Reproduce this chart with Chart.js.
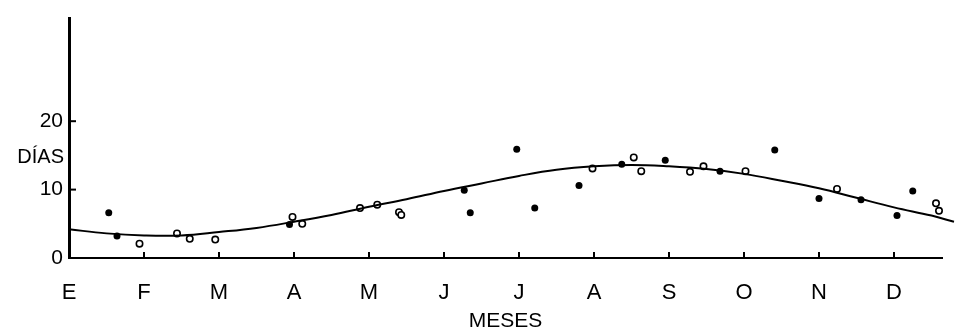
<!DOCTYPE html>
<html>
<head>
<meta charset="utf-8">
<script src="https://cdn.jsdelivr.net/npm/chart.js@4"></script>
<style>
  html, body { margin: 0; padding: 0; background: #fff; }
  #wrap { width: 969px; height: 334px; }
</style>
</head>
<body>
<div id="wrap"><canvas id="diasChart" width="969" height="334"></canvas></div>
<script>
// Months (tick labels on x) and y ticks
const months = ['E', 'F', 'M', 'A', 'M', 'J', 'J', 'A', 'S', 'O', 'N', 'D'];
const yTicks = [0, 10, 20];

// Fitted curve (month position, days)
const curveX = [0, 0.5, 1, 1.5, 2, 2.5, 3, 3.5, 4, 4.5, 5, 5.5, 6, 6.5, 7, 7.5, 8, 8.5, 9, 9.5, 10, 10.5, 11, 11.5, 11.8];
const curveY = [4.2, 3.6, 3.3, 3.3, 3.8, 4.4, 5.3, 6.3, 7.5, 8.6, 9.8, 10.9, 12.0, 12.9, 13.4, 13.6, 13.4, 13.0, 12.3, 11.3, 10.2, 8.8, 7.4, 6.2, 5.3];

// Observations shown as filled dots
const filledX = [0.53, 0.64, 2.94, 5.27, 5.35, 5.97, 6.21, 6.80, 7.37, 7.95, 8.68, 9.41, 10.0, 10.56, 11.04, 11.25, 11.95];
const filledY = [6.6, 3.2, 4.9, 9.9, 6.6, 15.9, 7.3, 10.6, 13.7, 14.3, 12.7, 15.8, 8.7, 8.5, 6.2, 9.8, 4.9];

// Observations shown as open circles
const openX = [0.94, 1.44, 1.61, 1.95, 2.98, 3.11, 3.88, 4.11, 4.40, 4.43, 6.98, 7.53, 7.63, 8.28, 8.46, 9.02, 10.24, 11.56, 11.60];
const openY = [2.1, 3.6, 2.8, 2.7, 6.0, 5.0, 7.3, 7.8, 6.7, 6.3, 13.1, 14.7, 12.7, 12.6, 13.4, 12.7, 10.1, 8.0, 6.9];

const toPts = (xs, ys) => xs.map((x, i) => ({ x: x, y: ys[i] }));

const FONT = '"Liberation Sans", Arial, Helvetica, sans-serif';

// small inward tick marks + the horizontal "DÍAS" label
const extras = {
  id: 'extras',
  afterDraw(chart) {
    const c = chart.ctx, xs = chart.scales.x, ys = chart.scales.y;
    c.save();
    c.strokeStyle = '#000';
    c.lineWidth = 2;
    yTicks.slice(1).forEach(v => {
      const py = ys.getPixelForValue(v);
      c.beginPath(); c.moveTo(xs.left, py); c.lineTo(xs.left + 7, py); c.stroke();
    });
    for (let i = 1; i < months.length; i++) {
      const px = xs.getPixelForValue(i);
      c.beginPath(); c.moveTo(px, ys.bottom); c.lineTo(px, ys.bottom - 6); c.stroke();
    }
    c.fillStyle = '#000';
    c.font = '20px ' + FONT;
    c.textAlign = 'right';
    c.textBaseline = 'middle';
    c.fillText('DÍAS', 64, 157);
    c.restore();
  }
};

const ctx = document.getElementById('diasChart').getContext('2d');
const diasChart = new Chart(ctx, {
  type: 'scatter',
  data: {
    datasets: [
      {
        type: 'line',
        data: toPts(curveX, curveY),
        borderColor: '#000',
        borderWidth: 2,
        pointRadius: 0,
        tension: 0.4,
        fill: false,
        clip: false
      },
      {
        data: toPts(filledX, filledY),
        backgroundColor: '#000',
        borderColor: '#000',
        pointRadius: 3.5,
        borderWidth: 0,
        clip: false
      },
      {
        data: toPts(openX, openY),
        backgroundColor: '#fff',
        borderColor: '#000',
        pointRadius: 3.2,
        borderWidth: 1.6,
        clip: false
      }
    ]
  },
  plugins: [extras],
  options: {
    responsive: false,
    animation: false,
    layout: { padding: { left: 0, right: 27, top: 7, bottom: 0 } },
    plugins: { legend: { display: false }, tooltip: { enabled: false } },
    scales: {
      x: {
        type: 'linear',
        min: 0,
        max: 11.64,
        afterBuildTicks: s => { s.ticks = months.map((m, i) => ({ value: i })); },
        afterFit: s => { s.height = 76; },
        grid: { display: false, drawTicks: false },
        border: { display: true, color: '#000', width: 2 },
        ticks: {
          color: '#000',
          padding: 22,
          font: { family: FONT, size: 22 },
          maxRotation: 0,
          autoSkip: false,
          callback: v => months[v]
        },
        title: {
          display: true,
          text: 'MESES',
          color: '#000',
          font: { family: FONT, size: 21 },
          padding: { top: 2, bottom: 0 }
        }
      },
      y: {
        min: 0,
        max: 35,
        afterBuildTicks: s => { s.ticks = yTicks.map(v => ({ value: v })); },
        afterFit: s => { s.width = 69; },
        grid: { display: false, drawTicks: false },
        border: { display: true, color: '#000', width: 3 },
        ticks: {
          color: '#000',
          padding: 6,
          font: { family: FONT, size: 21 }
        }
      }
    }
  }
});
</script>
</body>
</html>
